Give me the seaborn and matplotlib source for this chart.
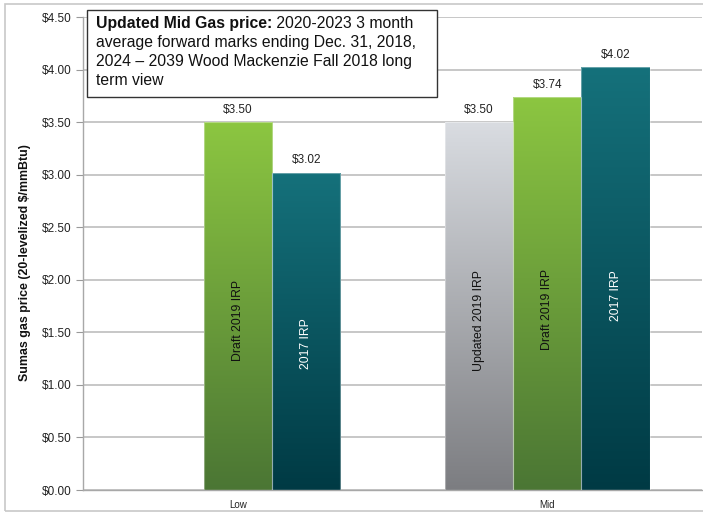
import numpy as np
import pandas as pd
import matplotlib
matplotlib.use("Agg")
import matplotlib.pyplot as plt
import matplotlib.patches as mpatches
from matplotlib.colors import LinearSegmentedColormap
import seaborn as sns

# Levelized Sumas gas price by scenario and IRP vintage ($/mmBtu)
categories = ["Low", "Mid"]
series = ["Updated 2019 IRP", "Draft 2019 IRP", "2017 IRP"]
low_values = {"Draft 2019 IRP": 3.50, "2017 IRP": 3.02}
mid_values = {"Updated 2019 IRP": 3.50, "Draft 2019 IRP": 3.74, "2017 IRP": 4.02}
y_ticks = [0.0, 0.5, 1.0, 1.5, 2.0, 2.5, 3.0, 3.5, 4.0, 4.5]

rows = []
for cat, vals in zip(categories, [low_values, mid_values]):
    for s in series:
        if s in vals:
            rows.append({"scenario": cat, "series": s, "price": vals[s]})
df = pd.DataFrame(rows)

# gradient (bottom, top) and in-bar text colour for each series
styles = {
    "Updated 2019 IRP": ("#7c7d81", "#d9dce1", "#111111"),
    "Draft 2019 IRP": ("#4b7634", "#8cc641", "#111111"),
    "2017 IRP": ("#003a44", "#15717b", "#ffffff"),
}

sns.set_style("white")
plt.rcParams["font.family"] = ["Liberation Sans", "DejaVu Sans"]

fig = plt.figure(figsize=(7.03, 5.14), dpi=100)
ax = fig.add_axes([83 / 703, 1 - 490 / 514, 619 / 703, 473 / 514])

sns.barplot(data=df, x="scenario", y="price", hue="series", hue_order=series,
            order=categories, width=0.663, dodge=True, ax=ax, legend=False,
            errorbar=None, zorder=2)

grad = np.linspace(0, 1, 256).reshape(-1, 1)
for container, name in zip(ax.containers, series):
    bottom_c, top_c, txt_c = styles[name]
    cmap = LinearSegmentedColormap.from_list(name, [bottom_c, top_c])
    for bar in container:
        h = bar.get_height()
        if h is None or np.isnan(h) or h == 0:
            continue
        x0, w = bar.get_x(), bar.get_width()
        im = ax.imshow(grad, extent=[x0, x0 + w, 0, h], origin="lower",
                       cmap=cmap, aspect="auto", zorder=2, interpolation="bilinear")
        im.set_clip_path(bar)
        bar.set_facecolor("none")
        bar.set_edgecolor((1, 1, 1, 0.35))
        bar.set_linewidth(0.8)
        bar.set_zorder(3)
        xc = x0 + w / 2
        ax.text(xc, h + 0.06, f"${h:.2f}", ha="center", va="bottom",
                fontsize=8.5, color="#222222", zorder=4)
        ax.text(xc, h * 0.46, name, rotation=90, ha="center", va="center",
                fontsize=8.8, color=txt_c, zorder=4)

ax.set_xlim(-0.5, 1.5)
ax.set_ylim(0, 4.5)
ax.set_yticks(y_ticks)
ax.set_yticklabels([f"${v:.2f}" for v in y_ticks], fontsize=8.5, color="#222222")
ax.yaxis.grid(True, color="#c3c3c3", linewidth=1.3, zorder=0)
ax.set_axisbelow(True)

ax.set_xticks([0, 1])
ax.set_xticklabels(categories, fontsize=7, color="#222222")
ax.set_xticks([0.5], minor=True)
ax.tick_params(axis="x", which="major", length=0, pad=7)
ax.tick_params(axis="x", which="minor", length=4, width=0.8, color="#999999", direction="out")
ax.tick_params(axis="y", length=5, width=0.8, color="#999999", direction="out", pad=3, left=True)

ax.set_xlabel("")
ax.set_ylabel("Sumas gas price (20-levelized $/mmBtu)", fontsize=8.9, fontweight="bold",
              color="#111111")
ax.yaxis.set_label_coords(-0.084, 0.48)

for side in ["top", "right"]:
    ax.spines[side].set_visible(False)
for side in ["left", "bottom"]:
    ax.spines[side].set_color("#a8a8a8")
    ax.spines[side].set_linewidth(1.0)

# outer frame around the whole chart
fig.patches.append(mpatches.Rectangle((5 / 703, 3 / 514), 705 / 703, 507 / 514,
                                      transform=fig.transFigure, fill=False,
                                      edgecolor="#c8c8c8", linewidth=1.2))

# note box in the upper left
fig.patches.append(mpatches.Rectangle((87 / 703, 1 - 97 / 514), 350 / 703, 87 / 514,
                                      transform=fig.transFigure, facecolor="white",
                                      edgecolor="#333333", linewidth=1.0, zorder=5))
x_txt = 96 / 703
base = [28, 47, 66, 85]
note_size = 11.3
bold = fig.text(x_txt, 1 - base[0] / 514, "Updated Mid Gas price:", fontsize=note_size,
                fontweight="bold", va="baseline", ha="left", color="#111111", zorder=6)
fig.canvas.draw()
bb = bold.get_window_extent()
fig.text(bb.x1 / fig.bbox.width, 1 - base[0] / 514, " 2020-2023 3 month", fontsize=note_size,
         va="baseline", ha="left", color="#111111", zorder=6)
for y, line in zip(base[1:], ["average forward marks ending Dec. 31, 2018,",
                              "2024 \u2013 2039 Wood Mackenzie Fall 2018 long",
                              "term view"]):
    fig.text(x_txt, 1 - y / 514, line, fontsize=note_size, va="baseline", ha="left",
             color="#111111", zorder=6)

fig.savefig("out.png", dpi=100)
